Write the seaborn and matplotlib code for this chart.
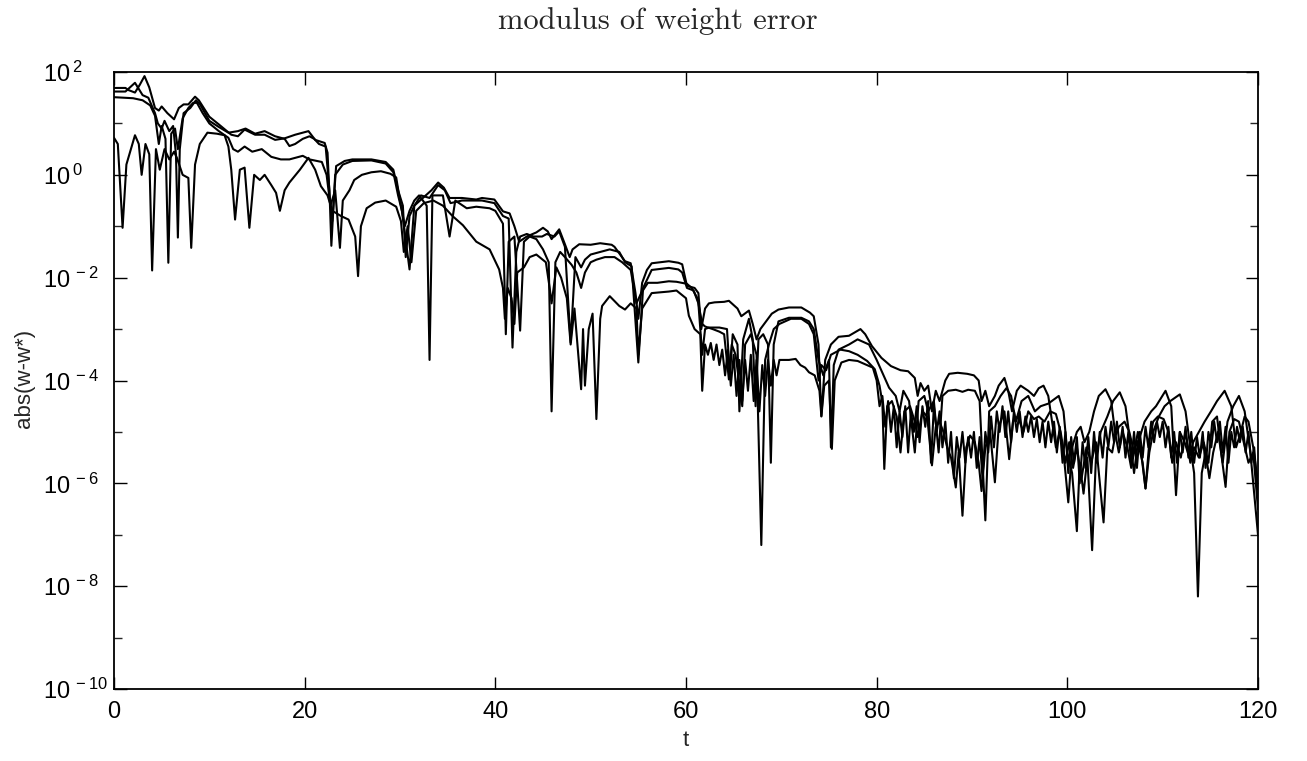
import numpy as np
import pandas as pd
import matplotlib
matplotlib.use("Agg")
import matplotlib.pyplot as plt
import seaborn as sns
from matplotlib.ticker import FixedLocator, FixedFormatter, NullFormatter

# (t, decade exponent of |w - w*|), one list per weight
s1_pts = [(0,1.69),(1.2,1.69),(1.5,1.65),(2.2,1.6),(2.7,1.75),(3.2,1.92),(3.7,1.7),(4.3,1.3),(4.7,1.25),(5.0,1.33),
 (5.6,1.2),(6.3,1.08),(6.8,1.3),(7.3,1.37),(7.8,1.37),(8.5,1.52),(8.9,1.45),(10.0,1.13),(11.0,0.98),(12.3,0.78),
 (13.0,0.75),(13.7,0.88),(14.8,0.78),(15.8,0.78),(16.9,0.68),(17.9,0.71),(19.0,0.78),(20.4,0.85),(21.1,0.68),(21.6,0.65),
 (22.1,0.62),(22.4,0.43),(22.6,-0.4),(22.9,-0.9),(23.3,0.17),(24.2,0.27),(25.0,0.3),(27.0,0.3),(28.5,0.25),(29.3,0.1),
 (29.8,-0.3),(30.3,-0.6),(30.6,-1.6),(31.0,-0.8),(31.5,-0.6),(32.4,-0.45),(33.3,-0.3),(34.0,-0.15),(34.6,-0.25),(35.2,-0.45),
 (36.5,-0.45),(38.0,-0.48),(38.6,-0.45),(39.9,-0.48),(40.8,-0.71),(41.5,-0.75),(42.0,-1.0),(42.5,-1.3),(43.3,-1.2),(44.3,-1.12),
 (45.0,-1.03),(45.5,-1.1),(45.9,-1.25),(46.7,-1.06),(47.3,-1.35),(47.8,-1.6),(48.1,-1.45),(48.8,-1.35),(50.0,-1.36),(51.0,-1.33),
 (52.2,-1.36),(52.5,-1.4),(53.6,-1.68),(54.2,-1.72),(54.7,-2.3),(55.0,-2.8),(55.4,-2.1),(55.9,-1.85),(56.4,-1.72),(57.3,-1.7),
 (58.2,-1.68),(59.2,-1.71),(59.6,-1.74),(60.1,-2.16),(60.9,-2.2),(61.3,-2.3),(61.6,-3.0),(62.0,-2.6),(62.4,-2.5),(63.0,-2.48),
 (64.0,-2.47),(64.5,-2.45),(65.4,-2.6),(65.8,-2.75),(66.3,-2.68),(66.6,-2.64),(67.0,-2.9),(67.4,-3.2),(67.8,-3.0),(68.4,-2.85),
 (69.0,-2.7),(69.7,-2.62),(70.8,-2.58),(72.1,-2.58),(73.0,-2.68),(73.4,-2.75),(73.9,-3.3),(74.2,-4.69),(74.6,-3.6),(75.2,-3.3),
 (76.0,-3.15),(77.1,-3.13),(78.3,-3.0),(78.8,-3.1),(79.5,-3.33),(80.5,-3.56),(81.5,-3.72),(82.5,-3.8),(83.3,-3.82),(84.0,-3.95),
 (84.3,-4.3),(84.6,-4.05),(85.0,-4.2),(85.4,-4.1),(85.8,-4.6),(86.2,-4.2),(86.6,-4.4),(87.2,-4.0),(87.6,-3.87),(88.5,-3.85),
 (89.5,-3.87),(90.2,-3.9),(90.7,-4.0),(91.0,-4.4),(91.4,-4.2),(91.8,-4.5),(92.4,-4.3),(92.8,-4.1),(93.4,-3.95),(93.8,-4.2),
 (94.2,-4.6),(94.7,-4.2),(95.1,-4.1),(95.9,-4.2),(96.5,-4.3),(97.0,-4.15),(97.5,-4.1),(98.0,-4.3),(98.4,-4.8),(98.8,-5.3),
 (99.2,-5.0),(99.6,-5.4),(100.1,-6.37),(100.5,-5.3),(101.0,-5.0),(101.4,-4.9),(101.8,-5.2),(102.3,-5.0),(102.8,-4.6),(103.3,-4.3),
 (104.0,-4.17),(104.6,-4.4),(105.0,-5.0),(105.4,-5.4),(105.8,-5.0),(106.3,-5.3),(106.7,-5.7),(107.1,-5.3),(107.6,-5.1),(108.1,-4.8),
 (108.8,-4.6),(109.3,-4.5),(110.3,-4.2),(110.9,-4.5),(111.4,-6.23),(111.8,-5.0),(112.3,-5.2),(112.8,-5.5),(113.2,-5.2),(113.8,-5.0),
 (114.4,-4.8),(115.1,-4.59),(115.7,-4.4),(116.5,-4.2),(117.2,-4.5),(117.7,-5.3),(118.2,-5.0),(118.6,-4.7),(119.0,-4.8),(119.5,-5.3),(120.0,-6.0)]

s2_pts = [(0,1.62),(1.2,1.62),(2.2,1.79),(3.0,1.55),(3.6,1.5),(4.3,1.2),(4.6,1.0),(5.0,0.9),(5.3,1.05),(5.8,0.85),
 (6.2,0.95),(6.5,0.4),(6.7,-1.22),(6.9,0.5),(7.3,1.2),(8.0,1.3),(8.6,1.45),(9.0,1.38),(10.0,1.05),(11.0,0.93),
 (12.0,0.82),(13.0,0.85),(13.8,0.9),(14.8,0.8),(15.8,0.85),(16.9,0.75),(17.9,0.7),(18.4,0.56),(19.0,0.6),(19.8,0.7),
 (20.5,0.75),(21.0,0.7),(21.5,0.6),(22.2,0.55),(22.6,-0.3),(22.8,-1.38),(23.2,0.0),(24.0,0.2),(25.0,0.27),(27.0,0.28),
 (28.5,0.22),(29.3,0.05),(29.8,-0.4),(30.2,-0.7),(31.0,-1.84),(31.5,-0.6),(32.2,-0.4),(33.1,-0.45),(34.0,-0.2),(34.7,-0.3),
 (35.3,-0.55),(36.5,-0.5),(38.0,-0.5),(38.6,-0.5),(39.9,-0.55),(40.8,-0.8),(41.4,-0.85),(41.8,-3.36),(42.2,-1.5),(42.6,-1.2),
 (43.3,-1.15),(44.0,-1.2),(44.9,-1.2),(45.4,-1.15),(46.2,-1.2),(46.7,-1.1),(47.3,-1.4),(47.9,-3.26),(48.4,-1.6),(49.0,-1.8),
 (49.4,-1.65),(50.0,-1.55),(51.0,-1.5),(52.0,-1.45),(53.0,-1.5),(53.6,-1.7),(54.3,-1.78),(55.0,-3.65),(55.5,-2.2),(56.4,-1.85),
 (58.2,-1.81),(59.2,-1.84),(59.6,-1.9),(60.1,-2.2),(60.8,-2.25),(61.3,-2.5),(61.7,-3.5),(62.0,-3.0),(62.4,-2.97),(63.5,-2.97),
 (64.3,-3.0),(64.6,-3.9),(64.9,-3.1),(65.4,-3.3),(65.6,-4.6),(66.0,-3.2),(66.3,-3.0),(66.6,-2.8),(67.0,-3.2),(67.3,-4.5),
 (67.6,-3.2),(68.1,-3.1),(68.6,-3.3),(68.9,-5.6),(69.2,-3.3),(69.7,-2.85),(70.8,-2.78),(72.1,-2.78),(72.9,-2.85),(73.4,-3.0),
 (73.9,-3.6),(74.4,-3.9),(75.0,-3.6),(75.2,-5.3),(75.5,-3.7),(76.0,-3.4),(77.1,-3.3),(78.0,-3.2),(79.2,-3.3),(80.0,-3.6),
 (81.3,-4.14),(82.0,-4.3),(82.4,-4.6),(82.8,-4.2),(83.4,-4.4),(84.0,-5.4),(84.4,-4.4),(85.0,-4.3),(85.4,-4.6),(86.0,-4.4),
 (86.5,-5.4),(86.9,-4.3),(87.5,-4.2),(88.3,-4.18),(89.0,-4.22),(89.6,-4.18),(90.3,-4.2),(90.8,-4.4),(91.4,-6.72),(91.8,-4.6),
 (92.4,-4.5),(93.0,-4.3),(93.6,-4.15),(94.1,-4.3),(94.6,-4.8),(95.2,-4.4),(95.9,-4.3),(96.6,-4.6),(97.2,-4.5),(98.0,-4.45),
 (99.1,-4.3),(99.6,-4.6),(100.0,-5.4),(100.5,-5.8),(101.0,-6.93),(101.3,-5.6),(101.7,-6.2),(102.1,-5.5),(102.6,-7.3),(103.0,-5.5),
 (103.5,-5.0),(104.2,-4.7),(104.8,-4.4),(105.5,-4.23),(106.1,-4.5),(106.6,-5.2),(107.0,-5.8),(107.4,-5.2),(107.9,-5.6),(108.2,-6.1),
 (108.6,-5.4),(109.0,-5.0),(109.6,-4.7),(110.2,-4.5),(110.8,-4.4),(111.8,-4.27),(112.4,-4.6),(112.9,-5.3),(113.3,-5.8),(113.7,-8.2),
 (114.1,-5.8),(114.5,-5.4),(114.9,-5.9),(115.3,-5.4),(115.8,-5.0),(116.3,-5.6),(116.8,-4.8),(117.4,-4.5),(118.0,-4.3),(118.6,-4.6),
 (119.2,-5.4),(119.6,-6.2),(120.0,-7.0)]

s3_pts = [(0,1.51),(1.0,1.5),(2.0,1.49),(3.0,1.45),(3.8,1.35),(4.3,1.15),(4.7,0.6),(5.0,0.95),(5.4,0.7),(5.7,-1.71),
 (6.0,0.8),(6.4,0.9),(6.7,0.5),(7.2,1.1),(7.8,1.3),(8.3,1.4),(8.7,1.4),(9.3,1.2),(10.0,1.0),(11.0,0.85),
 (12.0,0.72),(12.5,0.5),(13.0,0.45),(13.7,0.55),(14.5,0.45),(15.5,0.5),(16.5,0.35),(17.5,0.3),(18.4,0.3),(19.8,0.37),
 (20.5,0.3),(21.8,0.25),(22.3,0.0),(22.7,-0.6),(23.2,-0.3),(23.7,-1.42),(24.0,-0.5),(24.7,-0.3),(25.2,-0.1),(26.0,0.0),
 (27.0,0.05),(28.0,0.07),(29.0,0.02),(29.6,-0.05),(30.0,-0.5),(30.5,-1.0),(31.0,-0.7),(31.5,-0.5),(32.0,-0.4),(32.8,-0.6),
 (33.1,-3.6),(33.4,-0.4),(34.5,-0.4),(35.2,-1.2),(35.8,-0.5),(37.0,-0.65),(38.0,-0.62),(39.4,-0.65),(40.0,-0.7),(40.8,-0.95),
 (41.1,-3.1),(41.4,-1.3),(42.0,-1.2),(42.6,-3.03),(43.0,-1.3),(43.6,-1.2),(44.3,-1.25),(45.0,-1.45),(45.6,-1.7),(45.9,-4.6),
 (46.3,-1.7),(46.8,-1.5),(47.3,-1.6),(48.0,-1.75),(48.5,-1.9),(49.0,-2.2),(49.4,-1.9),(50.0,-1.7),(50.6,-1.65),(51.5,-1.6),
 (52.5,-1.6),(53.3,-1.7),(54.2,-1.85),(54.8,-2.5),(55.3,-2.3),(56.0,-2.1),(57.0,-2.1),(58.2,-2.07),(59.0,-2.08),(60.1,-2.12),
 (60.6,-2.2),(61.2,-2.4),(61.7,-2.9),(62.0,-2.95),(62.8,-3.0),(63.5,-3.05),(64.0,-3.1),(64.5,-3.98),(64.8,-3.3),(65.2,-3.5),
 (65.9,-4.5),(66.2,-3.3),(66.8,-3.1),(67.4,-3.5),(67.9,-7.2),(68.3,-3.6),(68.7,-3.3),(69.2,-3.0),(69.8,-2.9),(71.0,-2.8),
 (72.1,-2.8),(72.9,-2.9),(73.4,-3.1),(73.9,-4.0),(74.2,-3.7),(74.7,-3.8),(75.2,-3.5),(76.2,-3.4),(77.1,-3.43),(78.0,-3.5),
 (79.0,-3.62),(79.8,-3.78),(80.3,-4.1),(80.6,-4.43),(80.8,-5.72),(81.1,-4.5),(81.6,-4.4),(82.1,-4.7),(82.5,-5.4),(82.9,-4.6),
 (83.5,-4.5),(84.0,-4.8),(84.3,-5.1),(84.8,-4.6),(85.3,-4.7),(85.8,-5.65),(86.2,-4.9),(86.6,-4.8),(87.0,-5.0),(87.4,-5.3),
 (87.8,-5.5),(88.3,-6.08),(88.6,-5.4),(89.0,-6.63),(89.4,-5.3),(89.8,-5.07),(90.3,-5.2),(90.7,-5.6),(91.0,-6.15),(91.4,-5.3),
 (91.9,-5.0),(92.4,-5.98),(92.8,-4.9),(93.4,-4.6),(93.9,-5.53),(94.3,-4.8),(94.8,-4.7),(95.4,-5.0),(95.9,-4.6),(96.5,-4.75),
 (97.0,-4.7),(97.6,-4.8),(98.2,-4.6),(98.8,-4.65),(99.3,-5.0),(99.8,-5.6),(100.2,-5.2),(100.6,-5.7),(101.0,-5.3),(101.5,-5.9),
 (102.0,-5.3),(102.5,-5.6),(103.0,-5.2),(103.8,-6.76),(104.2,-5.3),(104.7,-5.4),(105.0,-5.1),(105.4,-4.9),(106.0,-4.8),(106.5,-5.0),
 (107.0,-5.4),(107.4,-5.0),(107.8,-5.5),(108.2,-6.1),(108.6,-5.2),(109.0,-4.8),(109.5,-4.7),(110.1,-4.75),(110.6,-5.0),(111.0,-5.6),
 (111.4,-5.2),(111.9,-5.5),(112.4,-5.0),(112.9,-5.6),(113.3,-5.3),(113.8,-5.5),(114.3,-5.2),(114.8,-5.6),(115.2,-4.8),(115.7,-4.7),
 (116.2,-5.5),(116.6,-6.07),(117.0,-5.0),(117.5,-4.75),(118.0,-4.8),(118.5,-5.2),(119.0,-5.6),(119.5,-5.4),(120.0,-6.5)]

s4_pts = [(0,0.72),(0.4,0.6),(0.9,-1.03),(1.3,0.2),(2.2,0.77),(2.6,0.6),(2.9,0.0),(3.3,0.6),(3.7,0.4),(4.0,-1.86),
 (4.4,0.5),(4.8,0.1),(5.3,0.5),(5.8,0.3),(6.3,0.45),(6.6,0.33),(7.2,0.0),(7.8,-0.06),(8.1,-1.42),(8.5,0.2),
 (9.0,0.6),(9.8,0.82),(10.8,0.8),(11.6,0.77),(12.0,0.55),(12.3,0.1),(12.7,-0.87),(13.2,0.1),(13.7,0.14),(14.2,-1.03),
 (14.7,0.0),(15.3,-0.1),(15.8,0.0),(16.5,-0.2),(17.0,-0.35),(17.4,-0.7),(17.9,-0.3),(18.4,-0.15),(19.5,0.1),(20.4,0.33),
 (21.1,0.1),(21.7,-0.22),(22.4,-0.4),(22.9,-0.7),(23.8,-0.8),(24.6,-0.87),(25.3,-1.2),(25.6,-1.97),(25.9,-1.0),(26.5,-0.65),
 (27.4,-0.54),(28.5,-0.5),(29.6,-0.62),(30.1,-0.9),(30.4,-1.5),(30.8,-1.0),(31.2,-1.7),(31.7,-0.7),(32.5,-0.55),(33.5,-0.5),
 (34.5,-0.6),(35.5,-0.8),(36.6,-0.98),(38.0,-1.3),(39.4,-1.45),(40.4,-1.84),(40.8,-2.2),(41.0,-2.8),(41.3,-2.2),(41.7,-2.4),
 (42.0,-2.9),(42.3,-1.9),(43.0,-1.8),(43.6,-1.6),(44.3,-1.55),(45.3,-1.7),(45.7,-2.2),(45.9,-2.5),(46.4,-1.8),(46.9,-2.0),
 (47.5,-2.4),(47.9,-3.3),(48.3,-2.6),(49.0,-4.17),(49.2,-3.0),(49.4,-4.1),(49.8,-3.0),(50.2,-2.7),(50.6,-4.75),(51.0,-2.8),
 (51.2,-2.55),(52.0,-2.36),(53.0,-2.55),(53.6,-2.62),(54.2,-2.5),(54.8,-2.6),(55.0,-3.5),(55.4,-2.6),(56.4,-2.3),(58.2,-2.27),
 (59.0,-2.25),(60.0,-2.4),(60.3,-2.74),(60.9,-3.0),(61.5,-3.1),(61.7,-4.2),(62.0,-3.3),(62.3,-3.5),(62.6,-3.27),(62.9,-3.6),
 (63.2,-3.3),(63.5,-3.7),(63.8,-3.4),(64.1,-3.9),(64.4,-3.4),(64.7,-4.1),(65.0,-3.5),(65.3,-4.3),(65.6,-3.6),(65.9,-4.4),
 (66.2,-3.6),(66.5,-4.2),(66.8,-3.5),(67.1,-4.4),(67.4,-3.6),(67.7,-4.6),(68.0,-3.7),(68.3,-4.3),(68.6,-3.6),(68.9,-4.1),
 (69.2,-3.6),(69.5,-3.9),(69.8,-3.6),(70.2,-3.6),(70.8,-3.6),(71.5,-3.58),(72.0,-3.7),(72.5,-3.75),(72.9,-3.84),(73.5,-3.9),
 (74.0,-4.2),(74.2,-4.7),(74.5,-4.1),(75.0,-4.0),(75.3,-5.33),(75.6,-4.0),(76.3,-3.65),(77.1,-3.6),(78.0,-3.62),(79.0,-3.7),
 (79.6,-3.75),(80.0,-4.0),(80.3,-4.5),(80.6,-4.3),(80.9,-4.9),(81.2,-4.4),(81.5,-5.0),(81.8,-4.5),(82.1,-5.3),(82.4,-4.6),
 (82.7,-5.1),(83.0,-4.5),(83.3,-5.4),(83.6,-4.6),(83.9,-5.0),(84.2,-4.5),(84.5,-5.2),(84.8,-4.5),(85.1,-4.9),(85.4,-4.4),
 (85.7,-5.6),(86.0,-4.5),(86.3,-5.0),(86.6,-4.6),(86.9,-5.3),(87.2,-4.8),(87.5,-5.6),(87.8,-5.0),(88.1,-5.9),(88.4,-5.1),
 (88.7,-5.5),(89.0,-5.0),(89.3,-5.6),(89.6,-5.1),(89.9,-5.5),(90.2,-5.0),(90.5,-5.7),(90.8,-5.1),(91.1,-5.9),(91.4,-5.0),
 (91.7,-5.4),(92.0,-4.7),(92.3,-5.3),(92.6,-4.6),(92.9,-5.0),(93.2,-4.5),(93.5,-5.1),(93.8,-4.6),(94.1,-5.2),(94.4,-4.6),
 (94.7,-5.0),(95.0,-4.6),(95.3,-5.1),(95.6,-4.7),(95.9,-5.0),(96.2,-4.7),(96.5,-5.1),(96.8,-4.75),(97.1,-5.2),(97.4,-4.8),
 (97.7,-5.3),(98.0,-4.8),(98.3,-5.2),(98.6,-4.8),(98.9,-5.4),(99.2,-4.9),(99.5,-5.6),(99.8,-5.0),(100.1,-5.8),(100.4,-5.1),
 (100.7,-5.6),(101.0,-5.1),(101.3,-6.0),(101.6,-5.2),(101.9,-5.7),(102.2,-5.1),(102.5,-5.8),(102.8,-5.0),(103.1,-5.6),(103.4,-5.0),
 (103.7,-5.5),(104.0,-4.9),(104.3,-5.3),(104.6,-4.8),(104.9,-5.2),(105.2,-4.8),(105.5,-5.3),(105.8,-4.9),(106.1,-5.5),(106.4,-5.0),
 (106.7,-5.6),(107.0,-5.0),(107.3,-5.7),(107.6,-5.0),(107.9,-5.5),(108.2,-4.9),(108.5,-5.3),(108.8,-4.8),(109.1,-5.2),(109.4,-4.8),
 (109.7,-5.1),(110.0,-4.8),(110.3,-5.3),(110.6,-4.9),(110.9,-5.5),(111.2,-5.0),(111.5,-5.6),(111.8,-5.0),(112.1,-5.4),(112.4,-4.9),
 (112.7,-5.5),(113.0,-5.0),(113.3,-5.6),(113.6,-5.1),(113.9,-5.5),(114.2,-5.0),(114.5,-5.7),(114.8,-5.0),(115.1,-5.3),(115.4,-4.8),
 (115.7,-5.2),(116.0,-4.8),(116.3,-5.4),(116.6,-4.9),(116.9,-5.6),(117.2,-5.0),(117.5,-5.3),(117.8,-4.9),(118.1,-5.2),(118.4,-4.9),
 (118.7,-5.4),(119.0,-5.0),(119.3,-5.6),(119.6,-5.3),(120.0,-6.3)]

series_names = ["w1", "w2", "w3", "w4"]
x_ticks = [0, 20, 40, 60, 80, 100, 120]
y_major_exp = [-10, -8, -6, -4, -2, 0, 2]
y_minor_exp = [-9, -7, -5, -3, -1, 1]

frames = []
for name, pts in zip(series_names, [s1_pts, s2_pts, s3_pts, s4_pts]):
    t, e = zip(*pts)
    frames.append(pd.DataFrame({"t": t, "err": 10.0 ** np.array(e), "series": name}))
df = pd.concat(frames, ignore_index=True)

sns.set_theme(style="ticks")
plt.rcParams["font.family"] = ["Liberation Sans", "DejaVu Sans"]
plt.rcParams["mathtext.fontset"] = "custom"
plt.rcParams["mathtext.rm"] = "Liberation Sans"
plt.rcParams["mathtext.default"] = "regular"

W, H = 1307, 761
fig = plt.figure(figsize=(W / 100, H / 100), dpi=100)
fig.patch.set_facecolor("white")
ax = fig.add_axes([114 / W, 1 - 689 / H, (1258 - 114) / W, (689 - 72) / H])
ax.set_yscale("log")

sns.lineplot(data=df, x="t", y="err", hue="series", palette=["black"] * 4,
             estimator=None, sort=False, legend=False, linewidth=1.5, ax=ax)

ax.set_xlim(0, 120)
ax.set_ylim(1e-10, 1e2)
ax.xaxis.set_major_locator(FixedLocator(x_ticks))
ax.xaxis.set_major_formatter(FixedFormatter([str(v) for v in x_ticks]))
ax.yaxis.set_major_locator(FixedLocator([10.0 ** e for e in y_major_exp]))
ax.yaxis.set_major_formatter(FixedFormatter([r"10$^{\,%d}$" % e for e in y_major_exp]))
ax.yaxis.set_minor_locator(FixedLocator([10.0 ** e for e in y_minor_exp]))
ax.yaxis.set_minor_formatter(NullFormatter())

ax.tick_params(axis="both", which="major", direction="in", top=True, right=True,
               length=9, width=1.0, labelsize=17, color="black", labelcolor="black")
ax.tick_params(axis="y", which="minor", direction="in", right=True, length=6, width=1.0)
ax.tick_params(axis="x", which="major", pad=9)
# y labels are left-aligned in the reference, "10" starting at x ~ 43 px
ax.tick_params(axis="y", which="major", pad=(114 - 43) * 72 / 100)
for lab in ax.get_yticklabels():
    lab.set_horizontalalignment("left")
for sp in ax.spines.values():
    sp.set_linewidth(1.3)
    sp.set_color("black")
ax.set_xlabel("")
ax.set_ylabel("")

fig.text(658 / W, 1 - 21 / H, "modulus of weight error", family="cmr10",
         fontsize=22, ha="center", va="center")
fig.text(24 / W, 1 - 378 / H, "abs(w-w*)", rotation=90, fontsize=16,
         ha="center", va="center")
fig.text(686 / W, 1 - 740 / H, "t", fontsize=16, ha="center", va="center")

fig.savefig("out.png", dpi=100, facecolor="white")
